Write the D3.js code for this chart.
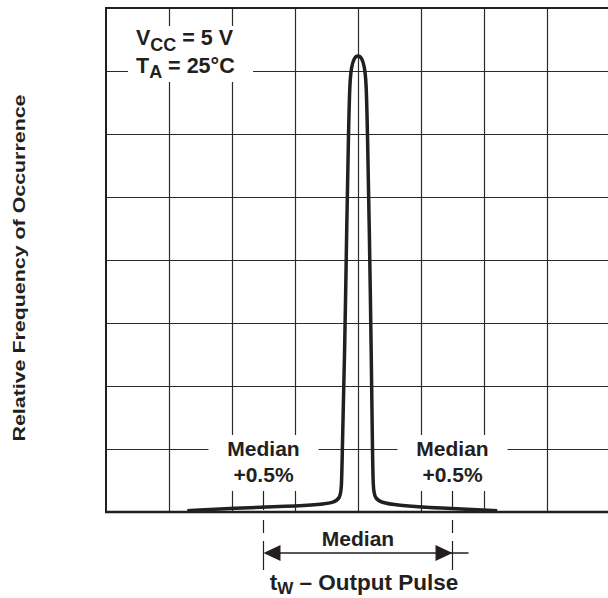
<!DOCTYPE html>
<html>
<head>
<meta charset="utf-8">
<script src="https://cdn.jsdelivr.net/npm/d3@7"></script>
<style>
  body { margin: 0; background: #fff; }
  svg { display: block; }
  text { font-family: "Liberation Sans", Arial, Helvetica, sans-serif; font-weight: bold; fill: #231f20; }
</style>
</head>
<body>
<svg width="608" height="598"></svg>
<script>
// grid is 8 x 8 divisions, median sits on x = 4
var xGrid = [1, 2, 3, 4, 5, 6, 7, 8];
var yGrid = [1, 2, 3, 4, 5, 6, 7];

// distribution curve (grid units)
var curveX = [1.29, 2.02, 2.92, 3.40, 3.62, 3.71, 3.74, 3.75, 3.79, 3.82, 3.85, 3.87, 3.90, 3.94, 4.00,
              4.06, 4.10, 4.13, 4.15, 4.18, 4.21, 4.23, 4.24, 4.27, 4.37, 4.59, 5.30, 6.21];
var curveY = [0.02, 0.06, 0.09, 0.12, 0.15, 0.22, 0.35, 0.98, 2.57, 4.48, 6.06, 6.86, 7.08, 7.21, 7.25,
              7.21, 7.08, 6.86, 6.06, 4.48, 2.57, 0.98, 0.35, 0.22, 0.15, 0.11, 0.06, 0.02];

// "Median +0.5%" markers and the median dimension
var markX = [2.5, 5.5];
var markLabels = ["Median", "+0.5%"];

var svg = d3.select('svg');

var x = d3.scaleLinear().domain([0, 8]).range([106, 610]);
var y = d3.scaleLinear().domain([0, 8]).range([512, 8]);

// grid
svg.append('g')
    .attr('class', 'grid')
    .attr('transform', 'translate(0,512)')
    .call(d3.axisBottom(x).tickValues(xGrid).tickSize(-504).tickFormat(''))
    .call(function(g) { g.select('.domain').remove(); });
svg.append('g')
    .attr('class', 'grid')
    .attr('transform', 'translate(106,0)')
    .call(d3.axisLeft(y).tickValues(yGrid).tickSize(-510).tickFormat(''))
    .call(function(g) { g.select('.domain').remove(); });
svg.selectAll('.grid line').attr('stroke', '#2b2b2b').attr('stroke-width', 1.2);

// white boxes behind the labels
svg.append('rect').attr('x', 128).attr('y', 26).attr('width', 125).attr('height', 56).attr('fill', '#fff');
markX.forEach(function(m) {
    svg.append('rect')
        .attr('x', x(m) - 55).attr('y', 435)
        .attr('width', 110).attr('height', 56)
        .attr('fill', '#fff');
});

// frame
svg.append('line').attr('x1', 106).attr('x2', 608).attr('y1', 8).attr('y2', 8)
    .attr('stroke', '#231f20').attr('stroke-width', 2);
svg.append('line').attr('x1', 106).attr('x2', 106).attr('y1', 7).attr('y2', 513)
    .attr('stroke', '#231f20').attr('stroke-width', 2);
svg.append('line').attr('x1', 105).attr('x2', 608).attr('y1', 512).attr('y2', 512)
    .attr('stroke', '#231f20').attr('stroke-width', 2.5);

// curve
var pts = curveX.map(function(d, i) { return [d, curveY[i]]; });
var line = d3.line()
    .x(function(d) { return x(d[0]); })
    .y(function(d) { return y(d[1]); })
    .curve(d3.curveBasis);
svg.append('path')
    .datum(pts)
    .attr('d', line)
    .attr('fill', 'none')
    .attr('stroke', '#231f20')
    .attr('stroke-width', 3.5)
    .attr('stroke-linejoin', 'round');

// condition labels
var t1 = svg.append('text').attr('x', 136).attr('y', 45).attr('font-size', 21.5);
t1.append('tspan').text('V');
t1.append('tspan').attr('font-size', 18).attr('dy', 6).text('CC');
t1.append('tspan').attr('dy', -6).text(' = 5 V');
var t2 = svg.append('text').attr('x', 136).attr('y', 73).attr('font-size', 21.5);
t2.append('tspan').text('T');
t2.append('tspan').attr('font-size', 18).attr('dy', 5).text('A');
t2.append('tspan').attr('dy', -5).text(' = 25\u00b0C');

// median +0.5% labels
markX.forEach(function(m) {
    svg.append('text').attr('x', x(m)).attr('y', 456).attr('text-anchor', 'middle')
        .attr('font-size', 21).text(markLabels[0]);
    svg.append('text').attr('x', x(m)).attr('y', 482).attr('text-anchor', 'middle')
        .attr('font-size', 21).text(markLabels[1]);
});

// dimension lines
markX.forEach(function(m) {
    [[491, 510], [520, 533], [541, 570]].forEach(function(s) {
        svg.append('line')
            .attr('x1', x(m)).attr('x2', x(m))
            .attr('y1', s[0]).attr('y2', s[1])
            .attr('stroke', '#231f20').attr('stroke-width', 1.2);
    });
});
var ay = 553;
svg.append('line').attr('x1', x(markX[0]) + 10).attr('x2', x(markX[1]) + 16)
    .attr('y1', ay).attr('y2', ay).attr('stroke', '#231f20').attr('stroke-width', 1.5);
var a0 = x(markX[0]), a1 = x(markX[1]);
svg.append('path')
    .attr('d', 'M' + a0 + ',' + ay + 'L' + (a0 + 17) + ',' + (ay - 8) + 'L' + (a0 + 17) + ',' + (ay + 8) + 'Z')
    .attr('fill', '#231f20');
svg.append('path')
    .attr('d', 'M' + a1 + ',' + ay + 'L' + (a1 - 17) + ',' + (ay - 8) + 'L' + (a1 - 17) + ',' + (ay + 8) + 'Z')
    .attr('fill', '#231f20');
svg.append('text').attr('x', x(4)).attr('y', 546).attr('text-anchor', 'middle')
    .attr('font-size', 21).text('Median');

// axis titles
var xt = svg.append('text').attr('x', 364).attr('y', 590).attr('text-anchor', 'middle').attr('font-size', 22.5);
xt.append('tspan').text('t');
xt.append('tspan').attr('font-size', 17).attr('dy', 4).text('W');
xt.append('tspan').attr('dy', -4).text(' \u2013 Output Pulse');

svg.append('text')
    .attr('transform', 'translate(25,268) rotate(-90)')
    .attr('text-anchor', 'middle')
    .attr('font-size', 17)
    .attr('textLength', 347)
    .attr('lengthAdjust', 'spacingAndGlyphs')
    .text('Relative Frequency of Occurrence');
</script>
</body>
</html>
